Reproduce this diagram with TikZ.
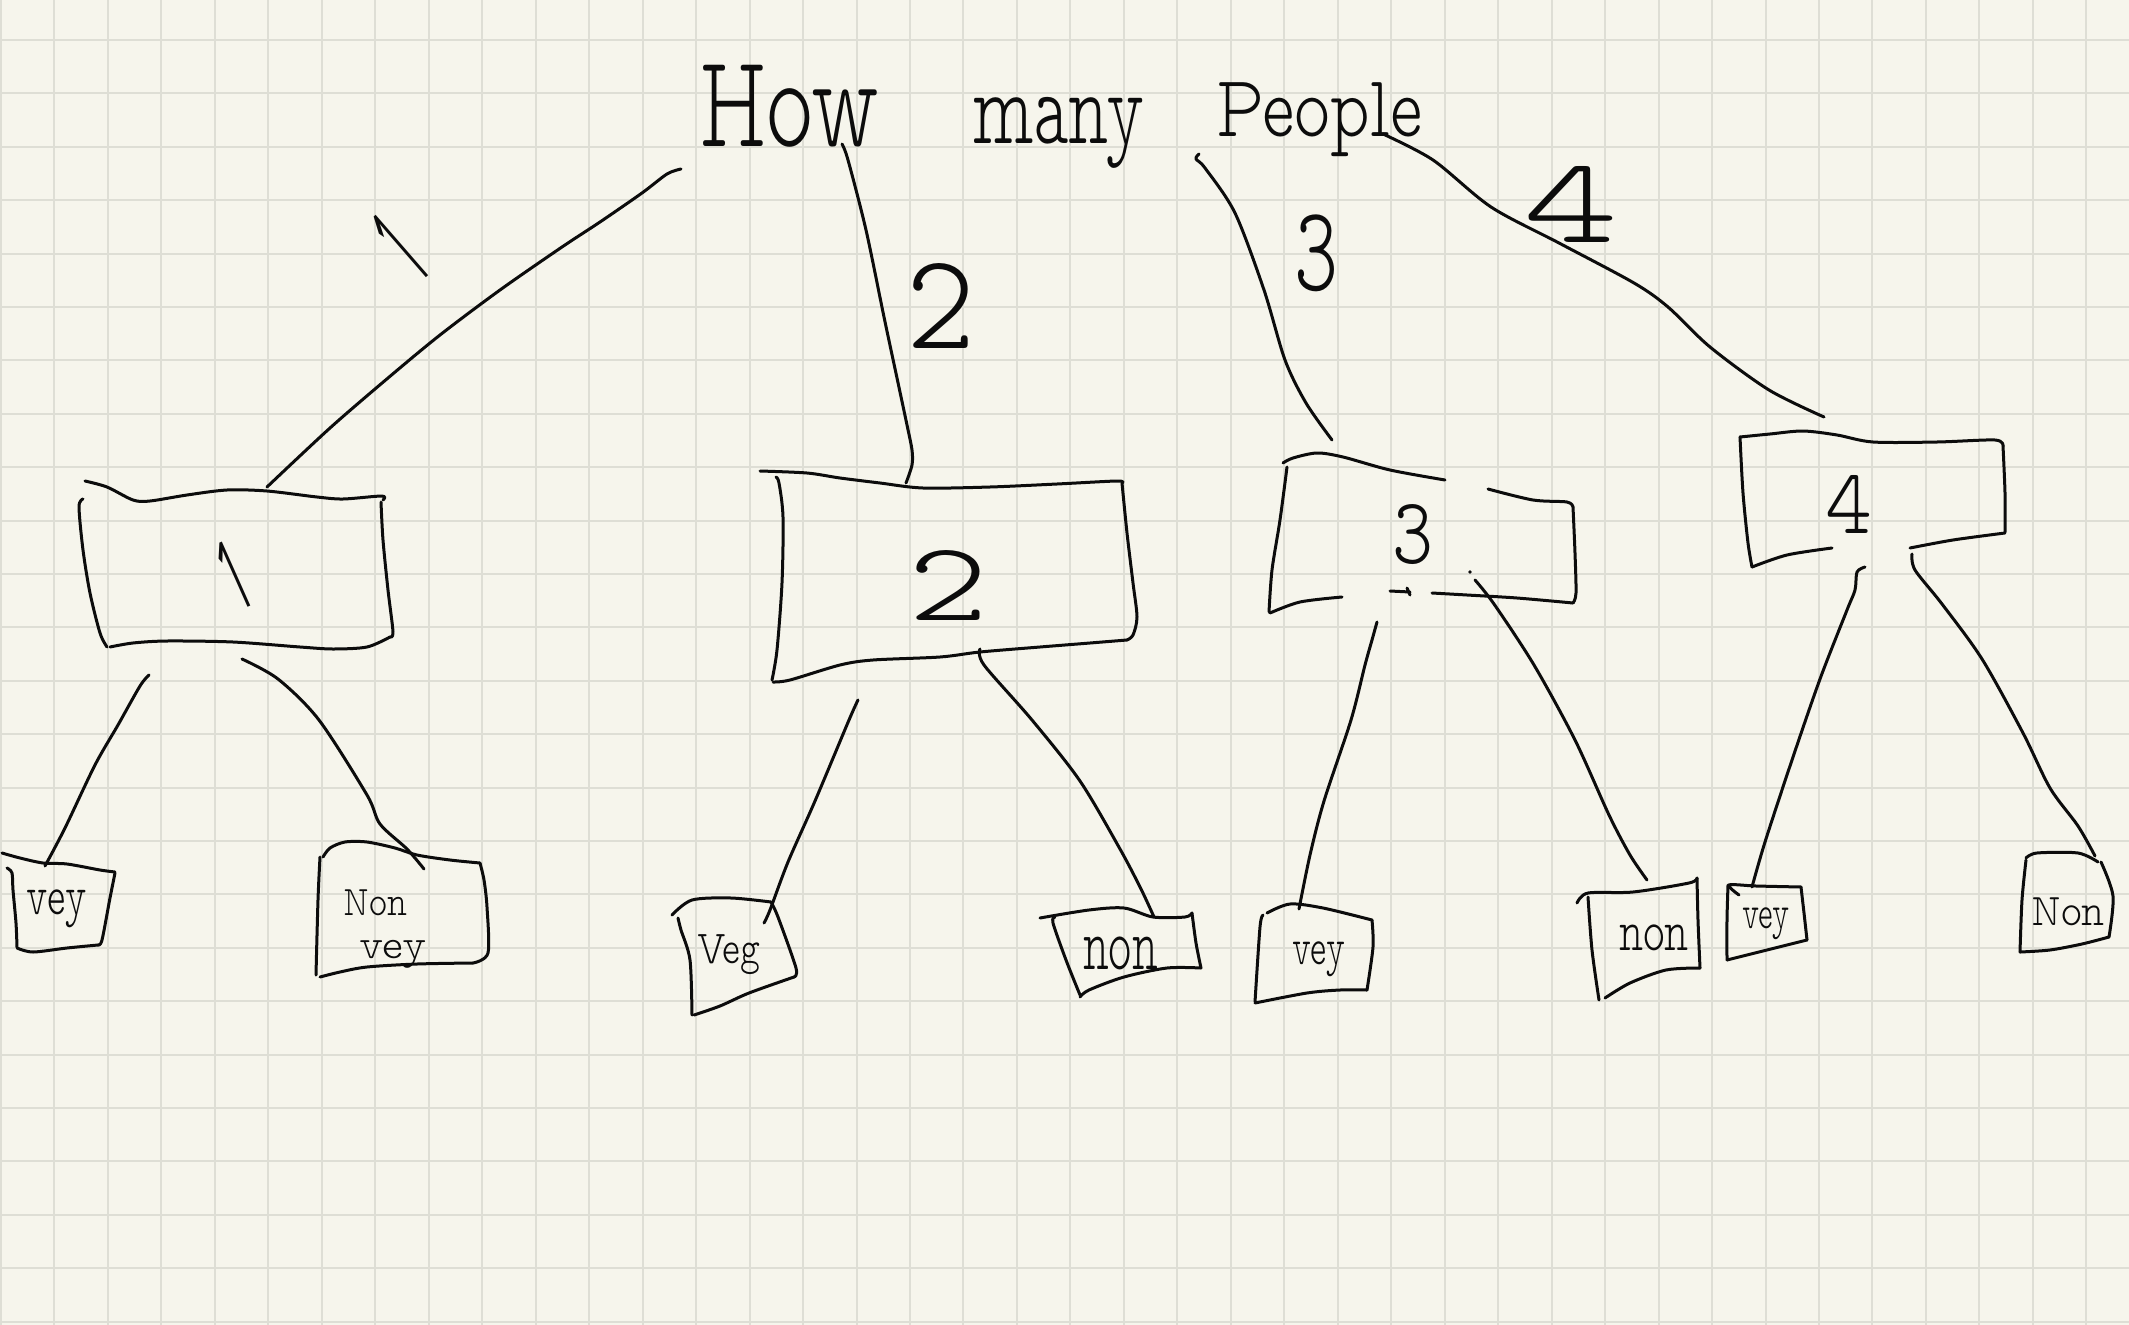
\documentclass[tikz,border=0pt]{standalone}
\usepackage{fontspec}
\usepackage{graphicx}
\newfontfamily\hand{lmmonoproplt10-regular.otf}
\newfontfamily\onefont{Open Sans}
\definecolor{bgc}{RGB}{246,245,236}
\definecolor{gridc}{RGB}{222,222,213}
\definecolor{inkc}{RGB}{12,12,12}
\newcommand\fitto[3]{\resizebox*{#1}{#2}{\hand #3}}
\newcommand\fitone[3]{\resizebox*{#1}{#2}{\onefont #3}}
\tikzset{
  ink/.style={line width=3pt, draw=inkc, line cap=round, line join=round},
  gridln/.style={line width=2pt, draw=gridc},
  txt/.style={inner sep=0pt, outer sep=0pt, text=inkc},
  tl/.style={txt, anchor=north west},
}
\begin{document}
\begin{tikzpicture}[x=1pt,y=-1pt]
\useasboundingbox (0,0) rectangle (2129,1325);
\fill[bgc] (0,0) rectangle (2129,1325);
\foreach \k in {0,...,39} \draw[gridln] ({1+53.47*\k},0) -- ({1+53.47*\k},1325);
\foreach \k in {0,...,24} \draw[gridln] (0,{40+53.4*\k}) -- (2129,{40+53.4*\k});

% ---- title ----
\node[tl] (tHow) at (699,65) {\fitto{180pt}{82pt}{How}};
\node[tl] (tmany) at (973,97) {\fitto{172pt}{71pt}{many}};
\node[tl] (tPeople) at (1216,83) {\fitto{206pt}{74pt}{People}};

% ---- edge labels ----
\node[txt, rotate=41] (e1) at (401,247) {\fitone{22pt}{80pt}{1}};
\node[tl] (e2) at (906,263) {\fitto{69pt}{85pt}{2}};
\node[tl] (e3) at (1294,215) {\fitto{44pt}{77pt}{3}};
\node[tl] (e4) at (1523,166) {\fitto{95pt}{76pt}{4}};

% ---- box labels ----
\node[txt, rotate=24] (b1) at (234,575) {\fitone{22pt}{70pt}{1}};
\node[tl] (b2) at (908,550) {\fitto{80pt}{70pt}{2}};
\node[tl] (b3) at (1392,505) {\fitto{41pt}{60pt}{3}};
\node[tl] (b4) at (1825,475) {\fitto{47pt}{58pt}{4}};

% ---- leaf labels ----
\node[tl] (l1) at (27,890) {\fitto{60pt}{38pt}{vey}};
\node[tl] (l2a) at (343,890) {\fitto{64pt}{26pt}{Non}};
\node[tl] (l2b) at (359,940) {\fitto{68pt}{28pt}{vey}};
\node[tl] (l3) at (697,935) {\fitto{63pt}{40pt}{Veg}};
\node[tl] (l4) at (1083,937) {\fitto{75pt}{33pt}{non}};
\node[tl] (l5) at (1292,942) {\fitto{53pt}{35pt}{vey}};
\node[tl] (l6) at (1619,925) {\fitto{70pt}{26pt}{non}};
\node[tl] (l7) at (1742,908) {\fitto{48pt}{32pt}{vey}};
\node[tl] (l8) at (2031,898) {\fitto{74pt}{28pt}{Non}};

% ---- box outlines ----
% box 1
\draw[ink] plot[smooth] coordinates {(85,481) (107,487) (133,500) (150,501) (187,495) (227,490) (267,491) (317,497) (343,499) (382,496) (383,500)};
\draw[ink] plot[smooth] coordinates {(381,502) (383,540) (388,590) (393,632) (390,637)};
\draw[ink] plot[smooth] coordinates {(390,637) (367,647) (333,649) (300,647) (233,642) (167,641) (133,643) (110,647)};
\draw[ink] plot[smooth] coordinates {(83,499) (79,507) (83,550) (90,593) (100,633) (107,647)};
% box 2
\draw[ink] plot[smooth] coordinates {(760,471) (807,473) (840,478) (880,483) (923,488) (990,487) (1057,484) (1117,481) (1122,483)};
\draw[ink] plot[smooth] coordinates {(1122,483) (1127,533) (1133,583) (1137,617) (1133,635) (1127,640)};
\draw[ink] plot[smooth] coordinates {(1127,640) (1090,643) (1040,647) (980,652) (940,657) (873,660) (840,665) (790,680) (773,682)};
\draw[ink] plot[smooth] coordinates {(776,477) (779,483) (783,517) (782,583) (777,650) (772,680)};
% box 3
\draw[ink] plot[smooth] coordinates {(1283,463) (1293,458) (1317,453) (1343,457) (1390,470) (1445,480)};
\draw[ink] plot[smooth] coordinates {(1488,489) (1533,500) (1567,502) (1573,507)};
\draw[ink] plot[smooth] coordinates {(1573,507) (1575,553) (1576,593) (1573,603)};
\draw[ink] plot[smooth] coordinates {(1573,603) (1517,598) (1467,595) (1432,593)};
\draw[ink] (1390,591) -- (1410,592) (1407,588) -- (1410,595);
\draw[ink] plot[smooth] coordinates {(1342,597) (1300,602) (1270,613)};
\draw[ink] plot[smooth] coordinates {(1287,467) (1280,520) (1272,570) (1269,612)};
\fill[inkc] (1470,572) circle (1.8pt);
% box 4
\draw[ink] plot[smooth] coordinates {(1740,437) (1770,434) (1803,431) (1837,435) (1873,442) (1937,442) (1995,440) (2003,446)};
\draw[ink] plot[smooth] coordinates {(2003,446) (2005,493) (2005,532)};
\draw[ink] plot[smooth] coordinates {(2005,533) (1953,540) (1910,548)};
\draw[ink] plot[smooth] coordinates {(1832,548) (1787,555) (1752,567)};
\draw[ink] plot[smooth] coordinates {(1740,437) (1743,493) (1748,543) (1752,567)};

% ---- leaf outlines ----
% leaf 1
\draw[ink] plot[smooth] coordinates {(2,853) (20,858) (43,863) (67,864) (100,870) (115,872)};
\draw[ink] plot[smooth] coordinates {(115,873) (110,898) (102,940) (98,945)};
\draw[ink] plot[smooth] coordinates {(98,945) (67,948) (33,952) (17,948)};
\draw[ink] plot[smooth] coordinates {(7,868) (12,873) (13,890) (16,923) (17,947)};
% leaf 2
\draw[ink] plot[smooth] coordinates {(323,857) (330,848) (345,842) (367,842) (395,848) (417,855) (450,860) (480,863)};
\draw[ink] plot[smooth] coordinates {(480,863) (484,880) (487,907) (488,953) (473,963)};
\draw[ink] plot[smooth] coordinates {(473,963) (417,964) (367,967) (340,972) (320,977)};
\draw[ink] plot[smooth] coordinates {(320,857) (318,900) (316,975)};
% leaf 3
\draw[ink] plot[smooth] coordinates {(672,915) (692,900) (731,898) (771,902)};
\draw[ink] plot[smooth] coordinates {(771,902) (778,917) (796,968) (794,977)};
\draw[ink] plot[smooth] coordinates {(794,977) (749,993) (720,1006) (694,1015)};
\draw[ink] plot[smooth] coordinates {(678,918) (681,930) (690,960) (692,1015)};
% leaf 4
\draw[ink] plot[smooth] coordinates {(1040,918) (1089,910) (1124,908) (1153,917) (1185,917) (1192,913)};
\draw[ink] plot[smooth] coordinates {(1192,913) (1196,943) (1201,968)};
\draw[ink] plot[smooth] coordinates {(1201,968) (1167,968) (1124,977) (1089,990) (1080,997)};
\draw[ink] plot[smooth] coordinates {(1055,917) (1053,923) (1066,960) (1080,995)};
% leaf 5
\draw[ink] plot[smooth] coordinates {(1267,913) (1290,904) (1323,908) (1372,920)};
\draw[ink] plot[smooth] coordinates {(1372,920) (1373,947) (1367,990)};
\draw[ink] plot[smooth] coordinates {(1367,990) (1340,990) (1307,993) (1255,1003)};
\draw[ink] plot[smooth] coordinates {(1263,915) (1260,927) (1255,1002)};
% leaf 6
\draw[ink] plot[smooth] coordinates {(1577,903) (1588,893) (1633,892) (1689,883) (1697,878)};
\draw[ink] plot[smooth] coordinates {(1697,878) (1698,920) (1700,968)};
\draw[ink] plot[smooth] coordinates {(1700,968) (1666,970) (1630,983) (1605,998)};
\draw[ink] plot[smooth] coordinates {(1588,897) (1592,950) (1599,1000)};
% leaf 7
\draw[ink] plot[smooth] coordinates {(1739,895) (1729,885) (1756,886) (1801,887)};
\draw[ink] plot[smooth] coordinates {(1801,887) (1804,913) (1807,940)};
\draw[ink] plot[smooth] coordinates {(1807,940) (1767,950) (1727,960)};
\draw[ink] plot[smooth] coordinates {(1728,885) (1727,920) (1727,960)};
% leaf 8
\draw[ink] plot[smooth] coordinates {(2026,858) (2037,853) (2078,853) (2098,862)};
\draw[ink] plot[smooth] coordinates {(2101,862) (2113,896) (2109,937)};
\draw[ink] plot[smooth] coordinates {(2109,937) (2082,944) (2050,950) (2020,952)};
\draw[ink] plot[smooth] coordinates {(2026,860) (2022,900) (2020,952)};

% ---- connectors: title -> boxes ----
\coordinate (c1s) at (681,169); \coordinate (c1e) at (267,487);
\coordinate (c2s) at (842,144); \coordinate (c2e) at (906,483);
\coordinate (c3s) at (1199,154); \coordinate (c3e) at (1332,440);
\coordinate (c4s) at (1383,134); \coordinate (c4e) at (1824,417);
\draw[ink] plot[smooth] coordinates {(c1s) (667,174) (642,193) (600,222) (562,247) (500,290) (440,335) (388,378) (330,428) (c1e)};
\draw[ink] plot[smooth] coordinates {(c2s) (848,160) (866,230) (884,317) (897,378) (907,425) (912,450) (912,465) (c2e)};
\draw[ink] plot[smooth] coordinates {(c3s) (1196,159) (1205,168) (1235,213) (1264,290) (1285,360) (1306,403) (c3e)};
\draw[ink] plot[smooth] coordinates {(c4s) (1433,160) (1491,207) (1559,243) (1634,283) (1668,307) (1710,347) (1769,390) (c4e)};

% ---- connectors: boxes -> leaves ----
\coordinate (d1s) at (149,675); \coordinate (d1e) at (45,866);
\coordinate (d2s) at (242,659); \coordinate (d2e) at (424,869);
\coordinate (d3s) at (858,700); \coordinate (d3e) at (764,923);
\coordinate (d4s) at (980,649); \coordinate (d4e) at (1154,917);
\coordinate (d5s) at (1377,622); \coordinate (d5e) at (1299,909);
\coordinate (d6s) at (1475,580); \coordinate (d6e) at (1647,880);
\coordinate (d7s) at (1865,567); \coordinate (d7e) at (1752,887);
\coordinate (d8s) at (1912,554); \coordinate (d8e) at (2095,856);
\draw[ink] plot[smooth] coordinates {(d1s) (140,686) (118,725) (95,765) (65,828) (d1e)};
\draw[ink] plot[smooth] coordinates {(d2s) (278,679) (319,720) (367,795) (380,824) (407,849) (d2e)};
\draw[ink] plot[smooth] coordinates {(d3s) (849,720) (815,801) (788,862) (770,910) (d3e)};
\draw[ink] plot[smooth] coordinates {(d4s) (984,665) (1032,720) (1080,781) (1120,849) (1141,889) (d4e)};
\draw[ink] plot[smooth] coordinates {(d5s) (1372,640) (1365,665) (1351,720) (1324,801) (1310,855) (d5e)};
\draw[ink] plot[smooth] coordinates {(d6s) (1494,604) (1534,665) (1575,740) (1609,815) (1630,855) (d6e)};
\draw[ink] plot[smooth] coordinates {(d7s) (1857,572) (1855,590) (1847,610) (1820,679) (1792,760) (1765,842) (d7e)};
\draw[ink] plot[smooth] coordinates {(d8s) (1915,570) (1942,604) (1982,659) (2023,733) (2050,788) (2078,826) (d8e)};
\end{tikzpicture}
\end{document}
